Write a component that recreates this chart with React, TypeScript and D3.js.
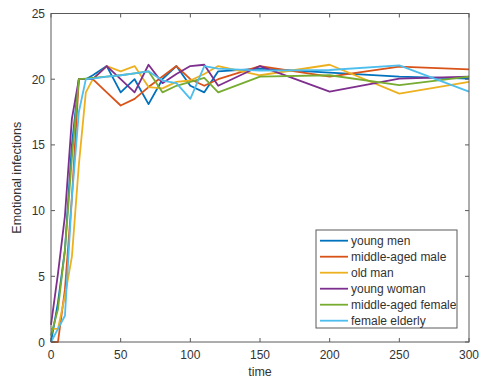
import React, { useEffect, useRef } from 'react';
import * as d3 from 'd3';

// sample times shared by all series
const times = [0, 5, 10, 15, 20, 25, 30, 40, 50, 60, 70, 80, 90, 100, 110, 120, 150, 200, 250, 300];

const youngMen = [0, 3, 7, 15, 20, 20, 20.3, 21, 19, 20, 18.1, 20, 21, 19.5, 19, 20.6, 20.8, 20.5, 20.2, 20.05];
const middleAgedMale = [0, 0, 4, 11, 20, 20, 20, 19, 18, 18.5, 19.4, 20.2, 21, 20, 19.5, 20, 21, 20.2, 20.95, 20.75];
const oldMan = [1, 1, 3.5, 6.5, 13.5, 19, 20, 21, 20.6, 21, 19.4, 19.3, 19.8, 19.9, 20.4, 21, 20.3, 21.1, 18.9, 19.8];
const youngWoman = [1.3, 5.2, 9.6, 17, 20, 20, 20, 21, 20, 19, 21.1, 19.7, 20.4, 21, 21.1, 19.5, 21, 19.05, 20.05, 20.2];
const middleAgedFemale = [0.5, 2.5, 7, 14, 20, 20.05, 20.1, 20.2, 20.3, 20.45, 20.6, 19, 19.5, 19.8, 20.1, 19, 20.2, 20.3, 19.55, 20.2];
const femaleElderly = [0, 1, 2, 11, 17.5, 20, 20.05, 20.2, 20.3, 20.45, 20.6, 19.9, 19.7, 18.5, 21, 20.8, 20.65, 20.7, 21.05, 19.05];

const seriesNames = ['young men', 'middle-aged male', 'old man', 'young woman', 'middle-aged female', 'female elderly'];
const seriesValues = [youngMen, middleAgedMale, oldMan, youngWoman, middleAgedFemale, femaleElderly];
const seriesColors = ['#0072BD', '#D95319', '#EDB120', '#7E2F8E', '#77AC30', '#4DBEEE'];

const xTicks = [0, 50, 100, 150, 200, 250, 300];
const yTicks = [0, 5, 10, 15, 20, 25];

const App: React.FC = () => {
  const svgRef = useRef<SVGSVGElement | null>(null);

  useEffect(() => {
    if (!svgRef.current) return;
    const width = 485;
    const height = 382;
    const left = 51, right = 469, top = 13.5, bottom = 342;

    const svg = d3.select(svgRef.current);
    svg.selectAll('*').remove();

    const x = d3.scaleLinear().domain([0, 300]).range([left, right]);
    const y = d3.scaleLinear().domain([0, 25]).range([bottom, top]);

    const font = 'Liberation Sans, Arial, sans-serif';
    const axisColor = '#5a5a5a';
    const textColor = '#333';

    svg.append('rect').attr('width', width).attr('height', height).attr('fill', '#fff');

    // series lines
    const line = d3.line<number>().x((_d, i) => x(times[i])).y(d => y(d));
    seriesValues.forEach((vals, k) => {
      svg.append('path')
        .datum(vals)
        .attr('fill', 'none')
        .attr('stroke', seriesColors[k])
        .attr('stroke-width', 1.8)
        .attr('stroke-linejoin', 'round')
        .attr('d', line);
    });

    // axes box
    svg.append('rect')
      .attr('x', left).attr('y', top)
      .attr('width', right - left).attr('height', bottom - top)
      .attr('fill', 'none').attr('stroke', axisColor).attr('stroke-width', 1);

    // ticks pointing inward
    const tl = 4;
    xTicks.forEach(t => {
      svg.append('line').attr('x1', x(t)).attr('x2', x(t)).attr('y1', bottom).attr('y2', bottom - tl).attr('stroke', axisColor);
      svg.append('line').attr('x1', x(t)).attr('x2', x(t)).attr('y1', top).attr('y2', top + tl).attr('stroke', axisColor);
    });
    yTicks.forEach(t => {
      svg.append('line').attr('x1', left).attr('x2', left + tl).attr('y1', y(t)).attr('y2', y(t)).attr('stroke', axisColor);
      svg.append('line').attr('x1', right).attr('x2', right - tl).attr('y1', y(t)).attr('y2', y(t)).attr('stroke', axisColor);
    });

    svg.selectAll('.xl').data(xTicks).enter().append('text')
      .attr('x', d => x(d)).attr('y', bottom + 17)
      .attr('text-anchor', 'middle').attr('font-family', font).attr('font-size', 12)
      .attr('fill', textColor).text(d => d);
    svg.selectAll('.yl').data(yTicks).enter().append('text')
      .attr('x', left - 6).attr('y', d => y(d) + 4.5)
      .attr('text-anchor', 'end').attr('font-family', font).attr('font-size', 12)
      .attr('fill', textColor).text(d => d);

    svg.append('text').attr('x', (left + right) / 2).attr('y', 376)
      .attr('text-anchor', 'middle').attr('font-family', font).attr('font-size', 12.5)
      .attr('fill', textColor).text('time');
    svg.append('text')
      .attr('transform', `translate(21,${(top + bottom) / 2}) rotate(-90)`)
      .attr('text-anchor', 'middle').attr('font-family', font).attr('font-size', 12.5)
      .attr('fill', textColor).text('Emotional infections');

    // legend
    const lg = svg.append('g');
    lg.append('rect').attr('x', 316).attr('y', 230).attr('width', 141).attr('height', 98)
      .attr('fill', '#fff').attr('stroke', axisColor).attr('stroke-width', 1);
    seriesNames.forEach((name, k) => {
      const ly = 240.7 + k * 16;
      lg.append('line').attr('x1', 320).attr('x2', 348).attr('y1', ly).attr('y2', ly)
        .attr('stroke', seriesColors[k]).attr('stroke-width', 1.8);
      lg.append('text').attr('x', 351).attr('y', ly + 4.3)
        .attr('font-family', font).attr('font-size', 12).attr('fill', textColor).text(name);
    });
  }, []);

  return (
    <div style={{ position: 'absolute', left: 0, top: 0 }}>
      <svg ref={svgRef} width={485} height={382} />
    </div>
  );
};

export default App;
